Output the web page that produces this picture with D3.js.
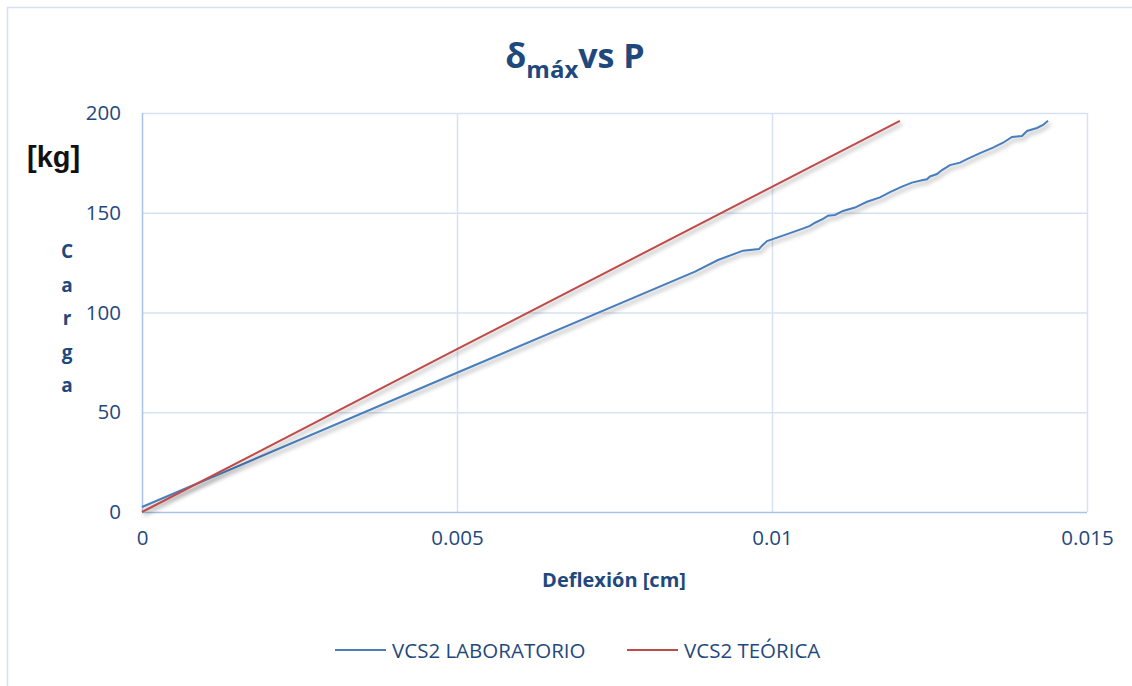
<!DOCTYPE html>
<html>
<head>
<meta charset="utf-8">
<script src="https://cdn.jsdelivr.net/npm/d3@7"></script>
<style>
  html, body { margin: 0; padding: 0; background: #fff; }
  svg { display: block; font-family: "Open Sans", "Noto Sans", sans-serif; }
</style>
</head>
<body>
<svg id="chart" width="1132" height="686"></svg>
<script>
// ---- data ----
const labX = [0, 0.005, 0.008778, 0.009143, 0.009540, 0.009794, 0.009841, 0.009921, 0.010286, 0.010476,
  0.010603, 0.010683, 0.010810, 0.010889, 0.011000, 0.011127, 0.011317, 0.011508, 0.011714, 0.011873,
  0.012063, 0.012222, 0.012397, 0.012460, 0.012508, 0.012619, 0.012698, 0.012825, 0.012984, 0.013095,
  0.013302, 0.013508, 0.013667, 0.013810, 0.013968, 0.014048, 0.014206, 0.014302, 0.014381];
const labY = [2.5, 69.8, 120.5, 126.3, 131.0, 131.8, 133.5, 135.8, 139.8, 141.9,
  143.4, 145.0, 146.9, 148.5, 148.9, 150.9, 152.6, 155.5, 157.7, 160.3,
  163.1, 165.1, 166.4, 166.8, 168.2, 169.4, 171.4, 173.9, 175.1, 176.9,
  179.9, 182.6, 185.1, 188.0, 188.5, 191.0, 192.5, 194.0, 196.1];
const teoX = [0, 0.005, 0.01203];
const teoY = [0, 81.6, 196];
const xTicks = [0, 0.005, 0.01, 0.015];
const xTickLabels = ["0", "0.005", "0.01", "0.015"];
const yTicks = [0, 50, 100, 150, 200];
const seriesNames = ["VCS2 LABORATORIO", "VCS2 TEÓRICA"];
const seriesColors = ["#4A7EBB", "#BE4B48"];
const yLabelLetters = ["C", "a", "r", "g", "a"];

// ---- layout ----
const svg = d3.select("#chart");
const pLeft = 142, pRight = 1087, pTop = 113, pBottom = 512;
const x = d3.scaleLinear().domain([0, 0.015]).range([pLeft, pRight]);
const y = d3.scaleLinear().domain([0, 200]).range([pBottom, pTop]);
const textBlue = "#1F497D";

// outer chart border
svg.append("rect").attr("x", 7.5).attr("y", 7.5).attr("width", 1140).attr("height", 700)
  .attr("fill", "none").attr("stroke", "#D5E1F0").attr("stroke-width", 1.5);

// shadow filter
const defs = svg.append("defs");
const f = defs.append("filter").attr("id", "shadow").attr("x", "-5%").attr("y", "-5%").attr("width", "115%").attr("height", "120%");
f.append("feDropShadow").attr("dx", 2).attr("dy", 3).attr("stdDeviation", 2)
  .attr("flood-color", "#000").attr("flood-opacity", 0.35);

// gridlines
svg.append("g").selectAll("line").data(yTicks.filter(d => d > 0)).join("line")
  .attr("x1", pLeft).attr("x2", pRight).attr("y1", d => y(d) + 0.5).attr("y2", d => y(d) + 0.5)
  .attr("stroke", "#D6E2F1").attr("stroke-width", 1.5);
svg.append("g").selectAll("line").data(xTicks.filter(d => d > 0)).join("line")
  .attr("y1", pTop).attr("y2", pBottom).attr("x1", d => x(d) + 0.5).attr("x2", d => x(d) + 0.5)
  .attr("stroke", "#D6E2F1").attr("stroke-width", 1.5);

// axes lines
svg.append("line").attr("x1", pLeft).attr("x2", pRight).attr("y1", pBottom + 0.5).attr("y2", pBottom + 0.5)
  .attr("stroke", "#A7C3E6").attr("stroke-width", 1.5);
svg.append("line").attr("x1", pLeft + 0.5).attr("x2", pLeft + 0.5).attr("y1", pTop).attr("y2", pBottom)
  .attr("stroke", "#A7C3E6").attr("stroke-width", 1.5);

// axis tick labels via d3 axes
const xAxis = d3.axisBottom(x).tickValues(xTicks).tickFormat((d, i) => xTickLabels[i]).tickSize(0).tickPadding(18);
const gx = svg.append("g").attr("transform", `translate(0,${pBottom})`).call(xAxis);
gx.select(".domain").remove();
gx.selectAll("text").attr("fill", textBlue).attr("font-size", 20.5).attr("font-family", "Open Sans, sans-serif");

const yAxis = d3.axisLeft(y).tickValues(yTicks).tickFormat(d3.format("d")).tickSize(0).tickPadding(21);
const gy = svg.append("g").attr("transform", `translate(${pLeft},0)`).call(yAxis);
gy.select(".domain").remove();
gy.selectAll("text").attr("fill", textBlue).attr("font-size", 20.5).attr("font-family", "Open Sans, sans-serif");

// lines
const line = d3.line().x(d => x(d[0])).y(d => y(d[1]));
const labData = labX.map((v, i) => [v, labY[i]]);
const teoData = teoX.map((v, i) => [v, teoY[i]]);
svg.append("path").datum(labData).attr("d", line).attr("fill", "none")
  .attr("stroke", seriesColors[0]).attr("stroke-width", 2).attr("filter", "url(#shadow)");
svg.append("path").datum(teoData).attr("d", line).attr("fill", "none")
  .attr("stroke", seriesColors[1]).attr("stroke-width", 2).attr("filter", "url(#shadow)");

// title
const title = svg.append("text").attr("x", 575).attr("y", 68).attr("text-anchor", "middle")
  .attr("fill", textBlue).attr("font-weight", "bold").attr("font-family", "Open Sans, sans-serif").attr("font-size", 34);
title.append("tspan").text("δ");
title.append("tspan").attr("font-size", 24).attr("dy", 10).text("máx");
title.append("tspan").attr("dy", -10).text("vs P");

// y-axis unit label
svg.append("text").attr("x", 27).attr("y", 167).attr("fill", "#111").attr("font-weight", "bold")
  .attr("font-family", "Liberation Sans Narrow, Liberation Sans, sans-serif").attr("font-size", 29).text("[kg]");

// vertical "Carga"
svg.append("g").selectAll("text").data(yLabelLetters).join("text")
  .attr("x", 67).attr("y", (d, i) => 258 + i * 33.5).attr("text-anchor", "middle")
  .attr("fill", textBlue).attr("font-weight", "bold").attr("font-size", 19)
  .attr("font-family", "Open Sans, sans-serif").text(d => d);

// x-axis title
svg.append("text").attr("x", 614).attr("y", 587).attr("text-anchor", "middle")
  .attr("fill", textBlue).attr("font-weight", "bold").attr("font-size", 20)
  .attr("font-family", "Open Sans, sans-serif").text("Deflexión [cm]");

// legend
const legendPos = [335, 627];
const lg = svg.append("g").selectAll("g").data(seriesNames).join("g")
  .attr("transform", (d, i) => `translate(${legendPos[i]},650)`);
lg.append("line").attr("x1", 0).attr("x2", 51).attr("y1", 0).attr("y2", 0)
  .attr("stroke", (d, i) => seriesColors[i]).attr("stroke-width", 2);
lg.append("text").attr("x", 57).attr("y", 7.5).attr("fill", textBlue).attr("font-size", 20.5)
  .attr("font-family", "Open Sans, sans-serif").text(d => d);
</script>
</body>
</html>
